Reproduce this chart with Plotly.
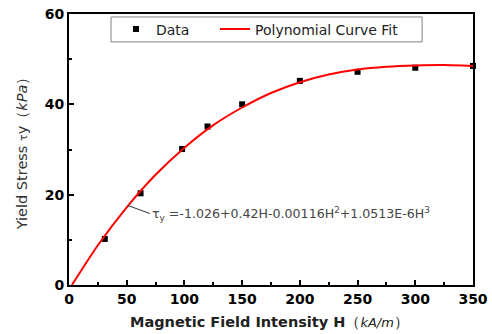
import plotly.graph_objects as go

# Measured data
data_H = [31, 62, 98, 120, 150, 200, 250, 300, 350]
data_tau = [10.2, 20.3, 30.1, 35.1, 40.0, 45.2, 47.2, 48.1, 48.5]

# Polynomial fit curve
fit_H = [2.5, 25, 50, 75, 100, 125, 150, 175, 200, 225, 250, 275, 300, 325, 350]
fit_tau = [0.0, 8.8, 17.2, 24.4, 30.4, 35.4, 39.3, 42.5, 44.9, 46.6, 47.7, 48.3, 48.6, 48.7, 48.5]

x_ticks = [0, 50, 100, 150, 200, 250, 300, 350]
y_ticks = [0, 20, 40, 60]

eq_text = "τ<sub>y</sub> =-1.026+0.42H-0.00116H<sup>2</sup>+1.0513E-6H<sup>3</sup>"
eq_anchor_H = 51
eq_anchor_tau = 17.6

FONT = "DejaVu Sans"

fig = go.Figure()
fig.add_trace(go.Scatter(
    x=data_H, y=data_tau, mode="markers", name="Data",
    marker=dict(symbol="square", size=6, color="black"),
    cliponaxis=False, legend="legend",
))
fig.add_trace(go.Scatter(
    x=fit_H, y=fit_tau, mode="lines", name="Polynomial Curve Fit",
    line=dict(color="#ff0000", width=2, shape="spline", smoothing=0.6),
    legend="legend2",
))

fig.add_annotation(
    x=eq_anchor_H, y=eq_anchor_tau, xref="x", yref="y",
    text=eq_text, showarrow=True, arrowhead=0, arrowwidth=1, arrowcolor="#333",
    ax=22, ay=8, xanchor="left", yanchor="middle", standoff=0,
    font=dict(family=FONT, size=12.6, color="#444"),
)
fig.add_annotation(
    x=0.496, y=-0.1, xref="paper", yref="paper", yanchor="top", showarrow=False,
    text="<b>Magnetic Field Intensity H</b>（<i><span style='font-size:13px'>kA/m</span></i>）",
    font=dict(family=FONT, size=14.5, color="#222"),
)

# legend frame enclosing both legend entries
fig.add_shape(type="rect", xref="paper", yref="paper",
              x0=0.104, x1=0.874, y0=0.897, y1=0.989,
              line=dict(color="#808080", width=1), fillcolor="white", layer="below")

axis_common = dict(
    showline=True, linewidth=2, linecolor="black", mirror=True,
    ticks="inside", ticklen=5, tickwidth=1.5, tickcolor="black",
    showgrid=False, zeroline=False, automargin=False,
    tickfont=dict(family=FONT, size=14, color="black", weight="bold"),
)

fig.update_xaxes(range=[0, 350], tickvals=x_ticks,
                 minor=dict(ticks="inside", ticklen=3, dtick=25, tickcolor="black"),
                 **axis_common)
fig.update_yaxes(range=[0, 60], tickvals=y_ticks,
                 minor=dict(ticks="inside", ticklen=3, dtick=10, tickcolor="black"),
                 title=dict(text="Yield Stress <span style='font-size:11px'>τ</span>y（<i>kPa</i>）",
                            font=dict(family=FONT, size=14.5, color="#333"), standoff=14),
                 **axis_common)

legend_common = dict(orientation="h", yanchor="top", xanchor="left", y=1.002,
                     borderwidth=0, bgcolor="rgba(0,0,0,0)",
                     font=dict(family=FONT, size=14, color="#222"), itemwidth=30)

fig.update_layout(
    width=492, height=334,
    margin=dict(l=69, r=19, t=14, b=49),
    paper_bgcolor="white", plot_bgcolor="white",
    showlegend=True,
    legend=dict(x=0.1163, **legend_common),
    legend2=dict(x=0.3614, **legend_common),
)

fig.write_html("out.html", config={"displayModeBar": False},
               post_script="document.body.style.margin='0';")
